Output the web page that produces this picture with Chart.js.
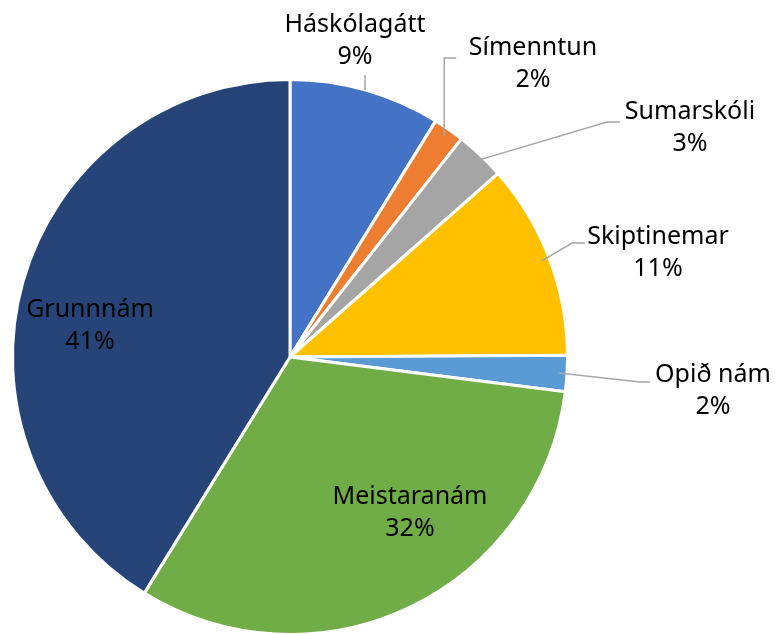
<!DOCTYPE html>
<html lang="is">
<head>
    <meta charset="UTF-8">
    <title>Skipting nemenda</title>
    <script src="https://cdn.jsdelivr.net/npm/chart.js"></script>
    <style>
        html, body { margin: 0; padding: 0; background: #ffffff; overflow: hidden; }
        .chart-container { position: relative; width: 777px; height: 640px; }
    </style>
</head>
<body>
<div class="chart-container">
    <canvas id="piechart"></canvas>
</div>

<script>
    // Gögn
    const flokkar = ["Háskólagátt", "Símenntun", "Sumarskóli", "Skiptinemar", "Opið nám", "Meistaranám", "Grunnnám"];
    const hlutfall = [8.8, 1.8, 2.9, 11.4, 2.1, 31.8, 41.2];
    const litir = ["#4472C4", "#ED7D31", "#A5A5A5", "#FFC000", "#5B9BD5", "#70AD47", "#264478"];

    // Staðsetning merkja miðað við miðju kökunnar (dx, dy) og hvort lína fylgi
    const merki = [
        { dx: 65,  dy: -332, lina: [[75, -282], [75, -267]] },
        { dx: 243, dy: -309, lina: [null, [160, -299], [172, -299]] },
        { dx: 400, dy: -245, lina: [null, [317, -235], [330, -235]] },
        { dx: 368, dy: -120, lina: [null, [282, -114], [295, -114]] },
        { dx: 423, dy: 18,   lina: [null, [350, 25], [360, 25]] },
        { dx: 120, dy: 140 },
        { dx: -200, dy: -47 }
    ];

    const merkiPlugin = {
        id: "merki",
        afterDatasetsDraw(chart) {
            const ctx = chart.ctx;
            const meta = chart.getDatasetMeta(0);
            const total = hlutfall.reduce((a, b) => a + b, 0);
            ctx.save();
            ctx.font = "25px 'Noto Sans'";
            ctx.textAlign = "center";
            ctx.textBaseline = "middle";
            meta.data.forEach((arc, i) => {
                const m = merki[i];
                const cx = arc.x, cy = arc.y;
                // leader line
                if (m.lina) {
                    const mid = (arc.startAngle + arc.endAngle) / 2;
                    const r = arc.outerRadius - 8;
                    const pts = m.lina.map(p => p ? [cx + p[0], cy + p[1]] : [cx + Math.cos(mid) * r, cy + Math.sin(mid) * r]);
                    if (i === 1) {
                        pts[1][0] = pts[0][0];
                        pts[2][0] = pts[0][0] + 12;
                    }
                    ctx.strokeStyle = "#A6A6A6";
                    ctx.lineWidth = 1.5;
                    ctx.beginPath();
                    ctx.moveTo(pts[0][0], pts[0][1]);
                    for (let k = 1; k < pts.length; k++) ctx.lineTo(pts[k][0], pts[k][1]);
                    ctx.stroke();
                }
                const pct = Math.round(hlutfall[i] / total * 100) + "%";
                ctx.fillStyle = "#000000";
                ctx.fillText(flokkar[i], cx + m.dx, cy + m.dy);
                ctx.fillText(pct, cx + m.dx, cy + m.dy + 32);
            });
            ctx.restore();
        }
    };

    new Chart(document.getElementById("piechart"), {
        type: "pie",
        data: {
            labels: flokkar,
            datasets: [{
                data: hlutfall,
                backgroundColor: litir,
                borderColor: "#ffffff",
                borderWidth: 3
            }]
        },
        options: {
            responsive: true,
            maintainAspectRatio: false,
            animation: false,
            layout: { padding: { left: 11, right: 208, top: 78, bottom: 4 } },
            plugins: {
                legend: { display: false },
                tooltip: { enabled: false }
            }
        },
        plugins: [merkiPlugin]
    });
</script>
</body>
</html>
